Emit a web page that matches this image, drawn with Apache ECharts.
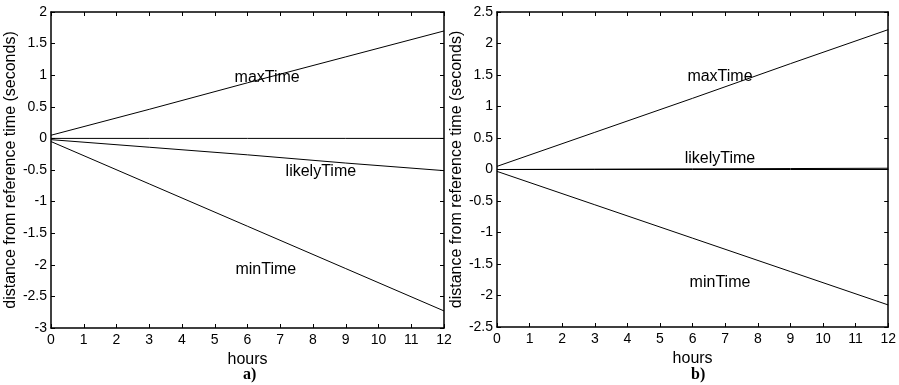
<!DOCTYPE html>
<html>
<head>
<meta charset="utf-8">
<script src="https://cdn.jsdelivr.net/npm/echarts@6/dist/echarts.min.js"></script>
<style>
  html, body { margin: 0; padding: 0; background: #fff; }
  #chart { width: 899px; height: 385px; }
</style>
</head>
<body>
<div id="chart"></div>
<script>
  // hours sampled along each line
  var hours = [0, 3, 6, 9, 12];

  // panel a)
  var aMax    = [0.05, 0.46, 0.88, 1.29, 1.70];
  var aLikely = [-0.02, -0.14, -0.26, -0.39, -0.51];
  var aMin    = [-0.05, -0.72, -1.39, -2.06, -2.73];

  // panel b)
  var bMax    = [0.05, 0.59, 1.13, 1.68, 2.22];
  var bLikely = [0.00, 0.005, 0.01, 0.015, 0.02];
  var bMin    = [-0.03, -0.56, -1.09, -1.62, -2.15];

  var zeroLine = [0, 0, 0, 0, 0];

  // text labels [hours, value, text]
  var aNotes = [[6.6, 0.97, 'maxTime'], [8.24, -0.53, 'likelyTime'], [6.56, -2.08, 'minTime']];
  var bNotes = [[6.84, 1.47, 'maxTime'], [6.84, 0.18, 'likelyTime'], [6.84, -1.79, 'minTime']];

  var font = '"Liberation Sans", Arial, sans-serif';

  function pairs(vals) {
    return hours.map(function (h, i) { return [h, vals[i]]; });
  }

  function lineSeries(vals, gi) {
    return {
      type: 'line',
      xAxisIndex: gi * 2,
      yAxisIndex: gi * 2,
      data: pairs(vals),
      showSymbol: false,
      symbol: 'none',
      silent: true,
      lineStyle: { color: '#000', width: 1 }
    };
  }

  function noteSeries(notes, gi) {
    return {
      type: 'scatter',
      xAxisIndex: gi * 2,
      yAxisIndex: gi * 2,
      silent: true,
      symbolSize: 1,
      itemStyle: { color: 'rgba(0,0,0,0)', opacity: 1 },
      data: notes.map(function (n) { return { value: [n[0], n[1]], name: n[2] }; }),
      label: {
        show: true, position: 'inside', formatter: '{b}',
        color: '#000', textBorderWidth: 0, fontSize: 16, fontFamily: font
      }
    };
  }

  function xAxes(gi) {
    return [
      {
        type: 'value', gridIndex: gi, min: 0, max: 12, interval: 1,
        name: 'hours', nameLocation: 'middle', nameGap: 18,
        nameTextStyle: { color: '#000', fontSize: 16, fontFamily: font },
        axisLine: { onZero: false, lineStyle: { color: '#000', width: 1.5 } },
        axisTick: { inside: true, length: 4, lineStyle: { color: '#000' } },
        axisLabel: { color: '#000', fontSize: 14, fontFamily: font, margin: 5 },
        splitLine: { show: false }
      },
      {
        type: 'value', gridIndex: gi, position: 'top', min: 0, max: 12, interval: 1,
        axisLine: { onZero: false, lineStyle: { color: '#000', width: 1.5 } },
        axisTick: { inside: true, length: 4, lineStyle: { color: '#000' } },
        axisLabel: { show: false },
        splitLine: { show: false }
      }
    ];
  }

  function yAxes(gi, min, max, gap) {
    return [
      {
        type: 'value', gridIndex: gi, min: min, max: max, interval: 0.5,
        name: 'distance from reference time (seconds)', nameLocation: 'middle', nameGap: gap, nameRotate: 90,
        nameTextStyle: { color: '#000', fontSize: 16, fontFamily: font },
        axisLine: { show: true, onZero: false, lineStyle: { color: '#000', width: 1.5 } },
        axisTick: { show: true, inside: true, length: 4, lineStyle: { color: '#000' } },
        axisLabel: { color: '#000', fontSize: 14, fontFamily: font, margin: 4 },
        splitLine: { show: false }
      },
      {
        type: 'value', gridIndex: gi, position: 'right', min: min, max: max, interval: 0.5,
        axisLine: { show: true, onZero: false, lineStyle: { color: '#000', width: 1.5 } },
        axisTick: { show: true, inside: true, length: 4, lineStyle: { color: '#000' } },
        axisLabel: { show: false },
        splitLine: { show: false }
      }
    ];
  }

  var chart = echarts.init(document.getElementById('chart'));
  chart.setOption({
    backgroundColor: '#fff',
    animation: false,
    title: [
      { text: 'a)', left: 238, top: 362, textStyle: { fontFamily: '"Liberation Serif", "Times New Roman", serif', fontSize: 16, fontWeight: 'bold', color: '#000' } },
      { text: 'b)', left: 686, top: 362, textStyle: { fontFamily: '"Liberation Serif", "Times New Roman", serif', fontSize: 16, fontWeight: 'bold', color: '#000' } }
    ],
    grid: [
      { left: 51, top: 12, width: 393, height: 316 },
      { left: 497, top: 12, width: 395, height: 315 }
    ],
    xAxis: xAxes(0).concat(xAxes(1)),
    yAxis: yAxes(0, -3, 2, 26).concat(yAxes(1, -2.5, 2.5, 24)),
    series: [
      lineSeries(zeroLine, 0),
      lineSeries(aMax, 0),
      lineSeries(aLikely, 0),
      lineSeries(aMin, 0),
      noteSeries(aNotes, 0),
      lineSeries(zeroLine, 1),
      lineSeries(bMax, 1),
      lineSeries(bLikely, 1),
      lineSeries(bMin, 1),
      noteSeries(bNotes, 1)
    ]
  });
</script>
</body>
</html>
